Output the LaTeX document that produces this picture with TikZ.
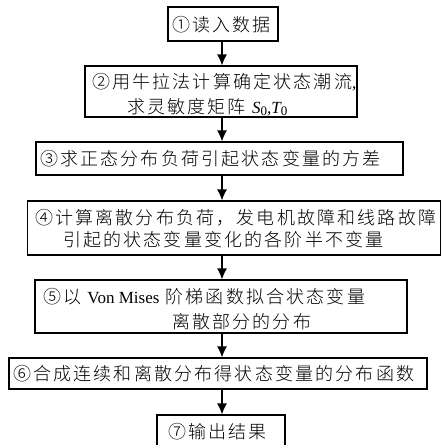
\documentclass[tikz,border=0pt]{standalone}
\usepackage{fontspec}
\setmainfont{Liberation Serif}
\newfontfamily\cjk[LetterSpace=12,UprightFont={* Light}]{Noto Sans CJK SC}
\usetikzlibrary{arrows.meta}
\newcommand{\subz}{\raisebox{-2pt}{\upshape\fontsize{13}{13}\selectfont 0}}
\begin{document}
\begin{tikzpicture}[x=1pt,y=-1pt,
  box/.style={draw, line width=1.2pt, inner sep=0pt},
  txt/.style={anchor=west, inner sep=0pt, font=\fontsize{18}{22}\selectfont\cjk},
  arr/.style={line width=1.2pt, -{Latex[length=11pt,width=10pt]}}]
\useasboundingbox (0,0) rectangle (442,445);
\clip (0,0) rectangle (442,445);
\coordinate (ax) at (222,0);
\node[box, minimum width=110, minimum height=34] (b1) at (223,24) {};
\node[box, minimum width=272, minimum height=51] (b2) at (221,91.5) {};
\node[box, minimum width=367, minimum height=33] (b3) at (219.5,158.5) {};
\node[box, minimum width=413, minimum height=54] (b4) at (234,228) {};
\node[box, minimum width=372, minimum height=53] (b5) at (221,306.5) {};
\node[box, minimum width=418, minimum height=31] (b6) at (218,373.5) {};
\node[box, minimum width=128, minimum height=50] (b7) at (221,440) {};
\node[txt] (t1) at (172,25) {①读入数据};
\node[txt] (t2a) at (92,82) {②用牛拉法计算确定状态潮流{\rmfamily\fontsize{17}{20}\selectfont ,}};
\node[txt] (t2b) at (127,107) {求灵敏度矩阵 {\rmfamily\fontsize{17}{20}\selectfont\itshape S\subz,T\subz}};
\node[txt] (t3) at (40,158.5) {③求正态分布负荷引起状态变量的方差};
\node[txt] (t4a) at (35,218) {④计算离散分布负荷，发电机故障和线路故障};
\node[txt] (t4b) at (63,240) {引起的状态变量变化的各阶半不变量};
\node[txt] (t5a) at (43,297) {⑤以 {\rmfamily\fontsize{17}{20}\selectfont Von Mises} 阶梯函数拟合状态变量};
\node[txt] (t5b) at (172,322) {离散部分的分布};
\node[txt] (t6) at (13,374) {⑥合成连续和离散分布得状态变量的分布函数};
\node[txt] (t7) at (168,432) {⑦输出结果};
\draw[arr] (b1.south -| ax) -- (b2.north -| ax);
\draw[arr] (b2.south -| ax) -- (b3.north -| ax);
\draw[arr] (b3.south -| ax) -- (b4.north -| ax);
\draw[arr] (b4.south -| ax) -- (b5.north -| ax);
\draw[arr] (b5.south -| ax) -- (b6.north -| ax);
\draw[arr] (b6.south -| ax) -- (b7.north -| ax);
\end{tikzpicture}
\end{document}
